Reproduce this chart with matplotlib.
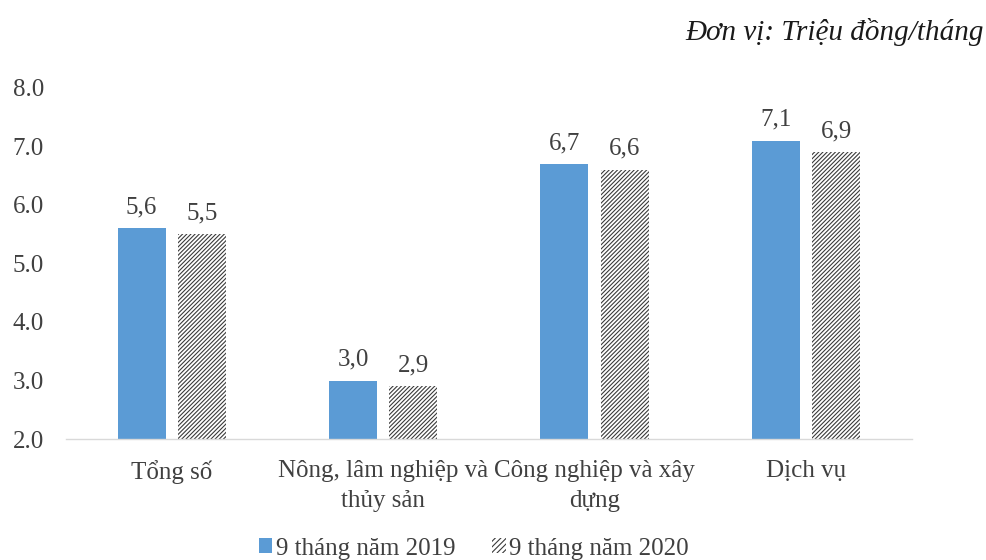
import matplotlib
matplotlib.use("Agg")
import matplotlib.pyplot as plt
import numpy as np
from matplotlib.patches import Patch

categories = ["Tổng số", "Nông, lâm nghiệp và\nthủy sản", "Công nghiệp và xây\ndựng", "Dịch vụ"]
series_names = ["9 tháng năm 2019", "9 tháng năm 2020"]
values_2019 = [5.6, 3.0, 6.7, 7.1]
values_2020 = [5.5, 2.9, 6.6, 6.9]
y_ticks = [2.0, 3.0, 4.0, 5.0, 6.0, 7.0, 8.0]

plt.rcParams['font.family'] = ['Liberation Serif', 'DejaVu Serif']
plt.rcParams['hatch.linewidth'] = 0.8
plt.rcParams['hatch.color'] = '#3a3a3a'

fig = plt.figure(figsize=(9.87, 5.6), dpi=100)
ax = fig.add_axes([0.0669, 0.216, 0.857, 0.627])

x = np.arange(len(categories))
w = 0.227
off = 0.143
txt_color = '#404040'
fs = 18

b1 = ax.bar(x - off, values_2019, w, color='#5B9BD5', zorder=2)
b2 = ax.bar(x + off, values_2020, w, color='white', edgecolor='#3a3a3a', hatch='////////', linewidth=0, zorder=2)

for xi, v in zip(x - off, values_2019):
    ax.text(xi, v + 0.17, f"{v:.1f}".replace('.', ','), ha='center', va='bottom', fontsize=fs, color=txt_color)
for xi, v in zip(x + off, values_2020):
    ax.text(xi, v + 0.17, f"{v:.1f}".replace('.', ','), ha='center', va='bottom', fontsize=fs, color=txt_color)

ax.set_ylim(2.0, 8.0)
ax.set_xlim(-0.5, 3.5)
ax.set_yticks(y_ticks)
ax.set_yticklabels([f"{t:.1f}" for t in y_ticks], fontsize=fs, color=txt_color)
ax.set_xticks(x)
ax.set_xticklabels(categories, fontsize=fs, color=txt_color, linespacing=1.45)
ax.tick_params(axis='both', length=0)
ax.tick_params(axis='x', pad=15)
ax.tick_params(axis='y', pad=16)
for s in ['left', 'right', 'top']:
    ax.spines[s].set_visible(False)
ax.spines['bottom'].set_color('#d9d9d9')
ax.spines['bottom'].set_linewidth(1.0)

fig.text(0.997, 0.943, "Đơn vị: Triệu đồng/tháng", ha='right', va='center', fontsize=21, style='italic', color='#1a1a1a')

handles = [Patch(facecolor='#5B9BD5', edgecolor='none'),
           Patch(facecolor='white', edgecolor='#3a3a3a', hatch='//////', linewidth=0)]
fig.legend(handles, series_names, loc='center', bbox_to_anchor=(0.48, 0.02), ncol=2, frameon=False,
           fontsize=fs, handlelength=0.55, handleheight=0.55, handletextpad=0.15, columnspacing=1.45,
           labelcolor=txt_color)

fig.savefig("out.png", dpi=100)
